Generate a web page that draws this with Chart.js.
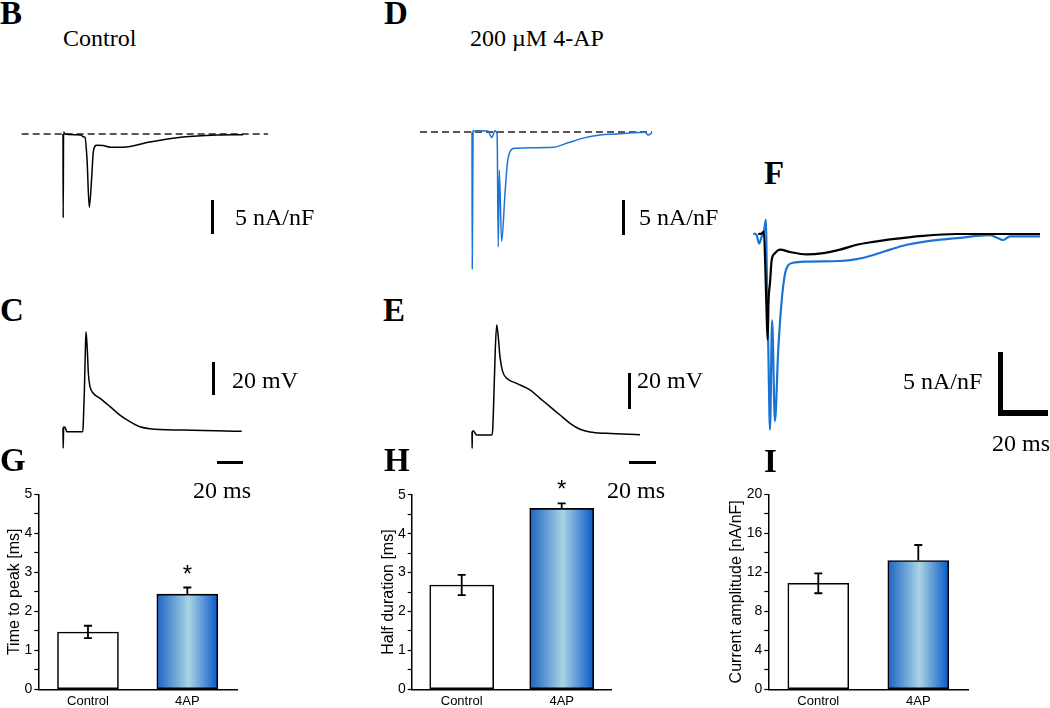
<!DOCTYPE html>
<html lang="en">
<head>
<meta charset="UTF-8">
<title>4-AP: calcium current, action potential and summary bars</title>
<script src="https://cdn.jsdelivr.net/npm/chart.js"></script>
<style>
    body {
        margin: 0;
        width: 1050px;
        height: 708px;
        position: relative;
        overflow: hidden;
        background: #fff;
        color: #000;
        font-family: 'Liberation Serif', 'Times New Roman', serif;
    }
    canvas { position: absolute; }
    .lbl { position: absolute; font-size: 24px; line-height: 24px; white-space: nowrap; z-index: 2; }
    .panel { position: absolute; font-weight: bold; font-size: 33px; line-height: 33px; z-index: 2; }
    .bar { position: absolute; background: #000; z-index: 2; }
</style>
</head>
<body>

<div class="panel" style="left:0;top:-3px">B</div>
<div class="lbl" style="left:63px;top:26px">Control</div>
<div class="panel" style="left:384px;top:-3px">D</div>
<div class="lbl" style="left:470px;top:26px">200 µM 4-AP</div>
<div class="panel" style="left:0;top:294px">C</div>
<div class="panel" style="left:383px;top:294px">E</div>
<div class="panel" style="left:764px;top:157px">F</div>
<div class="panel" style="left:0;top:444px">G</div>
<div class="panel" style="left:384px;top:444px">H</div>
<div class="panel" style="left:764px;top:445px">I</div>

<!-- scale bars -->
<div class="bar" style="left:211px;top:200px;width:3px;height:34px"></div>
<div class="lbl" style="left:235px;top:205px">5 nA/nF</div>
<div class="bar" style="left:622px;top:200px;width:3px;height:35px"></div>
<div class="lbl" style="left:639px;top:205px">5 nA/nF</div>

<div class="bar" style="left:212px;top:362px;width:3px;height:33px"></div>
<div class="lbl" style="left:232px;top:368px">20 mV</div>
<div class="bar" style="left:628px;top:373px;width:3px;height:36px"></div>
<div class="lbl" style="left:637px;top:368px">20 mV</div>

<div class="bar" style="left:217px;top:461px;width:26px;height:3px"></div>
<div class="lbl" style="left:193px;top:478px">20 ms</div>
<div class="bar" style="left:629px;top:461px;width:27px;height:3px"></div>
<div class="lbl" style="left:607px;top:478px">20 ms</div>

<div class="bar" style="left:998px;top:352px;width:5px;height:64px"></div>
<div class="bar" style="left:998px;top:410px;width:50px;height:6px"></div>
<div class="lbl" style="left:903px;top:369px">5 nA/nF</div>
<div class="lbl" style="left:992px;top:431px">20 ms</div>

<canvas id="chartB"></canvas>
<canvas id="chartD"></canvas>
<canvas id="chartC"></canvas>
<canvas id="chartE"></canvas>
<canvas id="chartF"></canvas>
<canvas id="chartG"></canvas>
<canvas id="chartH"></canvas>
<canvas id="chartI"></canvas>

<script>
// B: control current (time in ms, current in nA/nF)
const tB = [0, 0.15, 0.45, 1.5, 9.2, 13.8, 15.4, 16.9, 18.5, 20.2, 22.1, 23.3, 25.9, 30.8, 36.2, 46.2, 66.9, 92.3, 118.5, 138.5];
const iB = [0, -12.7, 0.3, 0, -0.1, -0.15, -0.4, -0.5, -3.9, -11.1, -6.5, -2.7, -1.7, -1.75, -2.0, -2.0, -1.2, -0.45, -0.15, -0.1];
const baseB = [-31.8, 157.7];

// D: current with 200 uM 4-AP
const tD = [0, 0.2, 0.8, 6.2, 12.3, 15.2, 17.7, 19.3, 20.2, 21.0, 22.8, 25.4, 27.2, 29.2, 33.1, 47.2, 62.5, 72.8, 85.6, 98.5, 111.3, 124.1, 133.1, 135.6, 138.5];
const iD = [0, -20.1, 0.15, 0.2, 0.15, -0.8, 0.2, -0.3, -16.9, -5.6, -16.1, -9.0, -4.6, -2.9, -2.4, -2.3, -2.25, -1.65, -0.9, -0.45, -0.3, -0.1, -0.05, -0.45, -0.1];
const baseD = [-40, 138.5];

// C: control action potential (mV above rest)
const tC = [0, 0.15, 0.5, 1.9, 2.8, 15.2, 15.6, 16.4, 17.2, 17.7, 18.7, 19.5, 20.8, 23.3, 28.5, 36.2, 43.8, 51.5, 59.2, 66.9, 92.5, 118.2, 137.5];
const vC = [2.5, -10.1, 3.0, 2.2, 0, 0, 5.1, 23.3, 49.5, 60.6, 49.5, 35.4, 27.3, 23.3, 20.2, 15.2, 10.1, 6.1, 3.0, 1.8, 1.0, 0.6, 0.2];

// E: action potential with 4-AP
const tE = [0, 0.1, 0.3, 1.0, 3.6, 15.2, 15.9, 16.9, 17.9, 19.0, 20.2, 21.5, 23.6, 26.7, 34.4, 44.6, 52.3, 60.0, 67.7, 75.4, 83.1, 90.8, 103.6, 129.2];
const vE = [2.0, -8.1, 2.0, 2.6, 0, 0, 3.0, 25.3, 51.5, 66.7, 59.6, 47.5, 38.4, 34.4, 31.3, 27.3, 22.2, 17.2, 12.1, 7.1, 3.5, 1.8, 1.0, 0.2];

// F: overlay, control (black) and 4-AP (blue)
const tF1 = [-3.3, -1.8, -0.9, -0.3, 0.3, 0.7, 1.1, 1.7, 2.4, 3.8, 6.0, 10.2, 17.3, 24.4, 31.5, 38.6, 45.7, 52.8, 66.9, 81.1, 95.3, 116.6];
const iF1 = [0, 0.05, 0.2, -2.7, -6.9, -8.8, -5.5, -4.1, -2.2, -1.6, -1.3, -1.5, -1.7, -1.6, -1.3, -0.9, -0.65, -0.45, -0.15, 0, 0, 0];
const tF2 = [-5.4, -4.0, -2.9, -1.8, -0.9, 0, 0.3, 1.0, 1.7, 2.6, 3.8, 5.2, 6.7, 8.1, 9.5, 11.6, 17.3, 31.5, 38.6, 45.7, 52.8, 59.9, 66.9, 81.1, 95.3, 98.8, 101.0, 103.8, 116.6];
const iF2 = [0.05, -0.1, -0.8, -0.2, 0.2, 1.2, -2.7, -9.7, -16.3, -7.2, -15.6, -9.7, -5.5, -3.3, -2.6, -2.4, -2.3, -2.25, -2.1, -1.75, -1.3, -0.9, -0.65, -0.35, -0.1, -0.35, -0.5, -0.2, -0.2];

// G, H, I: summary bars (mean, SEM)
const cats = ['Control', '4AP'];
const ttpMean = [1.47, 2.44];
const ttpErr = [0.16, 0.17];
const ttpSig = ['', '*'];
const halfMean = [2.68, 4.65];
const halfErr = [0.26, 0.13];
const halfSig = ['', '*'];
const ampMean = [10.87, 13.2];
const ampErr = [1.02, 1.6];
const ampSig = ['', ''];

const BLUE = '#1b74d3';
Chart.defaults.font.family = "'Liberation Sans', Arial, sans-serif";
Chart.defaults.color = '#000';

const zip = (xs, ys) => xs.map((x, k) => ({ x: x, y: ys[k] }));

function place(id, box) {
    const cv = document.getElementById(id);
    cv.width = box.w;
    cv.height = box.h;
    cv.style.left = box.left + 'px';
    cv.style.top = box.top + 'px';
    return cv;
}

// trace panels: no axes, the canvas box is mapped so that "origin" lands on a given pixel
function traceChart(id, box, origin, scale, sets) {
    const cv = place(id, box);
    return new Chart(cv, {
        type: 'scatter',
        data: { datasets: sets },
        options: {
            responsive: false,
            animation: false,
            devicePixelRatio: 1,
            events: [],
            plugins: { legend: { display: false }, tooltip: { enabled: false } },
            elements: {
                point: { radius: 0 },
                line: { borderJoinStyle: 'round' }
            },
            scales: {
                x: { type: 'linear', display: false,
                     min: (box.left - origin[0]) / scale[0],
                     max: (box.left + box.w - origin[0]) / scale[0] },
                y: { type: 'linear', display: false,
                     min: (origin[1] - box.top - box.h) / scale[1],
                     max: (origin[1] - box.top) / scale[1] }
            }
        }
    });
}

function trace(xs, ys, color, width) {
    return { data: zip(xs, ys), showLine: true, borderColor: color, borderWidth: width,
             cubicInterpolationMode: 'monotone' };
}
function dashed(xs) {
    return { data: zip(xs, [0, 0]), showLine: true, borderColor: '#222', borderWidth: 1.3, borderDash: [7, 4] };
}

traceChart('chartB', { left: 15, top: 100, w: 265, h: 130 }, [63, 134], [1.3, 6.6],
    [trace(tB, iB, '#000', 1.5), dashed(baseB)]);
traceChart('chartD', { left: 410, top: 100, w: 250, h: 180 }, [472, 132], [1.3, 6.8],
    [trace(tD, iD, BLUE, 1.5), dashed(baseD)]);
traceChart('chartC', { left: 50, top: 310, w: 210, h: 150 }, [63, 431.7], [1.3, 1.65],
    [trace(tC, vC, '#000', 1.5)]);
traceChart('chartE', { left: 455, top: 310, w: 200, h: 150 }, [472, 435], [1.3, 1.65],
    [trace(tE, vE, '#000', 1.5)]);
traceChart('chartF', { left: 745, top: 200, w: 305, h: 245 }, [766, 234], [2.35, 12],
    [trace(tF1, iF1, '#000', 2.2), trace(tF2, iF2, BLUE, 2.2)]);

// horizontal blue gradient of the 4AP bars
function blueGrad(c, thick) {
    const ch = c.chart;
    if (!ch.chartArea) return '#4d8ed2';
    const x = ch.scales.x.getPixelForValue(c.dataIndex);
    const g = ch.ctx.createLinearGradient(x - thick / 2, 0, x + thick / 2, 0);
    g.addColorStop(0, '#1d63c2');
    g.addColorStop(0.52, '#aad4e4');
    g.addColorStop(1, '#0758c8');
    return g;
}

const errorBars = {
    id: 'errorBars',
    afterDatasetsDraw(chart) {
        const ds = chart.data.datasets[0];
        const bars = chart.getDatasetMeta(0).data;
        const y = chart.scales.y;
        const ctx = chart.ctx;
        ctx.save();
        ctx.strokeStyle = '#000';
        ctx.fillStyle = '#000';
        ctx.lineWidth = 1.8;
        ds.data.forEach((v, i) => {
            const x = bars[i].x;
            const hi = y.getPixelForValue(v + ds.errors[i]);
            // only the open control bar shows its lower whisker
            const lo = i === 0 ? y.getPixelForValue(v - ds.errors[i]) : y.getPixelForValue(v);
            ctx.beginPath();
            ctx.moveTo(x, lo);
            ctx.lineTo(x, hi);
            ctx.moveTo(x - 4, hi);
            ctx.lineTo(x + 4, hi);
            if (i === 0) {
                ctx.moveTo(x - 4, lo);
                ctx.lineTo(x + 4, lo);
            }
            ctx.stroke();
            if (ds.stars[i]) {
                ctx.font = "24px 'Liberation Sans', Arial, sans-serif";
                ctx.textAlign = 'center';
                ctx.textBaseline = 'alphabetic';
                ctx.fillText(ds.stars[i], x, hi - 6);
            }
        });
        ctx.restore();
    }
};

function barChart(id, box, area, yMax, step, labelStep, title, mean, err, stars, thick) {
    const cv = place(id, box);
    return new Chart(cv, {
        type: 'bar',
        data: {
            labels: cats,
            datasets: [{
                data: mean,
                errors: err,
                stars: stars,
                backgroundColor: c => (c.dataIndex === 0 ? '#fff' : blueGrad(c, thick)),
                borderColor: '#000',
                borderWidth: 1.6,
                borderSkipped: false,
                barThickness: thick
            }]
        },
        options: {
            responsive: false,
            animation: false,
            devicePixelRatio: 1,
            events: [],
            layout: { padding: { top: area.top - box.top, right: box.left + box.w - area.right, left: 0, bottom: 0 } },
            plugins: { legend: { display: false }, tooltip: { enabled: false } },
            scales: {
                x: {
                    grid: { display: false, drawTicks: false },
                    border: { color: '#000', width: 1.5 },
                    ticks: { padding: 4, font: { size: 13 }, color: '#000' },
                    afterFit: s => { s.height = box.top + box.h - area.bottom; }
                },
                y: {
                    min: 0,
                    max: yMax,
                    border: { color: '#000', width: 1.5 },
                    grid: { drawOnChartArea: false, tickLength: 4, color: '#000', tickWidth: 1.2 },
                    ticks: {
                        stepSize: step,
                        autoSkip: false,
                        padding: 2,
                        font: { size: 14 },
                        color: '#000',
                        callback: v => (v % labelStep === 0 ? v : '')
                    },
                    title: { display: true, text: title, font: { size: 16 }, color: '#000', padding: 0 },
                    afterFit: s => { s.width = area.left - box.left; }
                }
            }
        },
        plugins: [errorBars]
    });
}

barChart('chartG', { left: 5, top: 460, w: 245, h: 248 }, { left: 38.3, top: 494.3, right: 237, bottom: 689.3 },
    5, 0.5, 1, 'Time to peak [ms]', ttpMean, ttpErr, ttpSig, 61);
barChart('chartH', { left: 379, top: 460, w: 246, h: 248 }, { left: 411.7, top: 494.8, right: 611.7, bottom: 689.3 },
    5, 0.5, 1, 'Half duration [ms]', halfMean, halfErr, halfSig, 64);
barChart('chartI', { left: 727, top: 460, w: 257, h: 248 }, { left: 768.3, top: 494.3, right: 968.3, bottom: 689.3 },
    20, 2, 4, 'Current amplitude [nA/nF]', ampMean, ampErr, ampSig, 61);
</script>
</body>
</html>
